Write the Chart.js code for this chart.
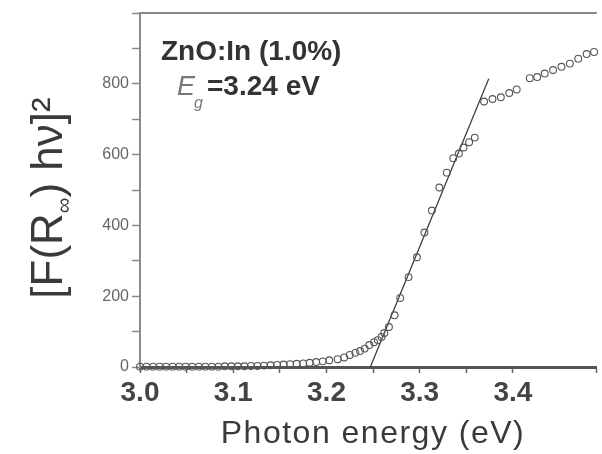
<!DOCTYPE html>
<html>
<head>
<meta charset="utf-8">
<script src="https://cdn.jsdelivr.net/npm/chart.js@4/dist/chart.umd.min.js"></script>
<style>
  html, body { margin: 0; padding: 0; background: #fff; }
  #wrap { width: 602px; height: 454px; position: relative; }
</style>
</head>
<body>
<div id="wrap"><canvas id="bandgapChart"></canvas></div>
<script>
// Measured points (photon energy in eV, [F(R) hv]^2)
const energy = [3.000, 3.007, 3.014, 3.021, 3.028, 3.035, 3.042, 3.049, 3.056, 3.063,
                3.070, 3.077, 3.084, 3.091, 3.098, 3.105, 3.112, 3.119, 3.126, 3.133,
                3.140, 3.147, 3.154, 3.161, 3.168, 3.175, 3.182, 3.189, 3.196, 3.203,
                3.212, 3.219, 3.225, 3.231, 3.236, 3.241, 3.246, 3.251, 3.255, 3.259,
                3.262, 3.267, 3.273, 3.279, 3.288, 3.297, 3.305, 3.313, 3.321, 3.329,
                3.336, 3.342, 3.347, 3.353, 3.359, 3.369, 3.378, 3.387, 3.396, 3.404,
                3.418, 3.426, 3.434, 3.443, 3.452, 3.461, 3.470, 3.479, 3.487];
const absorb = [1, 1, 1, 1, 1, 1, 1, 1, 1, 1,
                1, 1, 1, 2, 2, 2, 2, 3, 3, 4,
                5, 6, 7, 8, 9, 10, 12, 14, 16, 19,
                22, 27, 34, 40, 45, 52, 62, 70, 76, 85,
                96, 113, 146, 195, 254, 310, 380, 442, 507, 549,
                590, 603, 620, 635, 648, 750, 757, 762, 774, 784,
                816, 819, 829, 839, 848, 857, 871, 884, 890];

// Linear fit used to extrapolate the band gap
const fitEnergy = [3.247, 3.374];
const fitValue = [0, 814];

const xRange = [3.0, 3.49];
const yRange = [0, 1000];

const FONT = '"Liberation Sans", Arial, sans-serif';
Chart.defaults.font.family = FONT;

// Extra text: frame top line, annotation, axis titles
const extrasPlugin = {
    id: 'extras',
    afterDraw(chart) {
        const ctx = chart.ctx;
        const area = chart.chartArea;
        ctx.save();

        // top frame line
        ctx.strokeStyle = '#8a8a8a';
        ctx.lineWidth = 2;
        ctx.beginPath();
        ctx.moveTo(area.left, area.top);
        ctx.lineTo(area.right, area.top);
        ctx.stroke();

        // annotation
        ctx.fillStyle = '#333';
        ctx.textBaseline = 'alphabetic';
        ctx.textAlign = 'left';
        ctx.font = 'bold 28px ' + FONT;
        ctx.fillText('ZnO:In (1.0%)', 161, 60);
        ctx.fillStyle = '#777';
        ctx.font = 'italic 27px ' + FONT;
        ctx.fillText('E', 177, 95);
        ctx.font = 'italic 16px ' + FONT;
        ctx.fillText('g', 194, 108);
        ctx.fillStyle = '#333';
        ctx.font = 'bold 28px ' + FONT;
        ctx.fillText('=3.24 eV', 207, 95);

        // x title
        ctx.fillStyle = '#3a3a3a';
        ctx.font = '32px ' + FONT;
        ctx.letterSpacing = '1.5px';
        ctx.textAlign = 'center';
        ctx.fillText('Photon energy (eV)', 373, 443);
        ctx.letterSpacing = '0px';

        // y title, rotated, with subscript
        const parts = [
            { t: '[F(R', size: 44, dy: 0 },
            { t: '\u221E', size: 22, dy: 9 },
            { t: ') h\u03BD]\u00B2', size: 44, dy: 0 }
        ];
        let total = 0;
        parts.forEach(p => {
            ctx.font = p.size + 'px ' + FONT;
            p.w = ctx.measureText(p.t).width;
            total += p.w;
        });
        ctx.translate(62, 198);
        ctx.rotate(-Math.PI / 2);
        ctx.textAlign = 'left';
        let x = -total / 2;
        parts.forEach(p => {
            ctx.font = p.size + 'px ' + FONT;
            ctx.fillText(p.t, x, p.dy);
            x += p.w;
        });
        ctx.restore();
    }
};

new Chart(document.getElementById('bandgapChart'), {
    type: 'scatter',
    data: {
        datasets: [{
            label: 'data',
            data: energy.map((e, i) => ({ x: e, y: absorb[i] })),
            showLine: false,
            pointStyle: 'circle',
            pointRadius: 3.4,
            pointBorderWidth: 1.1,
            pointBorderColor: '#555',
            pointBackgroundColor: 'rgba(255,255,255,0)',
            clip: false
        }, {
            label: 'fit',
            type: 'line',
            data: fitEnergy.map((e, i) => ({ x: e, y: fitValue[i] })),
            borderColor: '#333',
            borderWidth: 1.2,
            pointRadius: 0,
            fill: false,
            clip: false
        }]
    },
    options: {
        responsive: true,
        maintainAspectRatio: false,
        animation: false,
        layout: { padding: { top: 13, right: 0, left: 0, bottom: 0 } },
        plugins: {
            legend: { display: false },
            tooltip: { enabled: false }
        },
        scales: {
            x: {
                type: 'linear',
                min: xRange[0],
                max: xRange[1],
                afterFit: function(scale) { scale.height = 87; },
                border: { color: '#555', width: 3 },
                grid: { drawOnChartArea: false, tickLength: 6, tickColor: '#666', tickWidth: 1.5 },
                ticks: {
                    stepSize: 0.05,
                    autoSkip: false,
                    maxRotation: 0,
                    padding: 3,
                    color: '#444',
                    font: { size: 28, weight: 'bold' },
                    callback: function(value) {
                        return Math.abs(value * 10 - Math.round(value * 10)) < 1e-6 ? value.toFixed(1) : '';
                    }
                }
            },
            y: {
                min: yRange[0],
                max: yRange[1],
                afterFit: function(scale) { scale.width = 140; },
                border: { color: '#8a8a8a', width: 2 },
                grid: { drawOnChartArea: false, tickLength: 8, tickColor: '#888', tickWidth: 1.5 },
                ticks: {
                    stepSize: 100,
                    padding: 3,
                    color: '#666',
                    font: { size: 16 },
                    callback: function(value) {
                        return (value % 200 === 0 && value < 1000) ? value : '';
                    }
                }
            }
        }
    },
    plugins: [extrasPlugin]
});
</script>
</body>
</html>
